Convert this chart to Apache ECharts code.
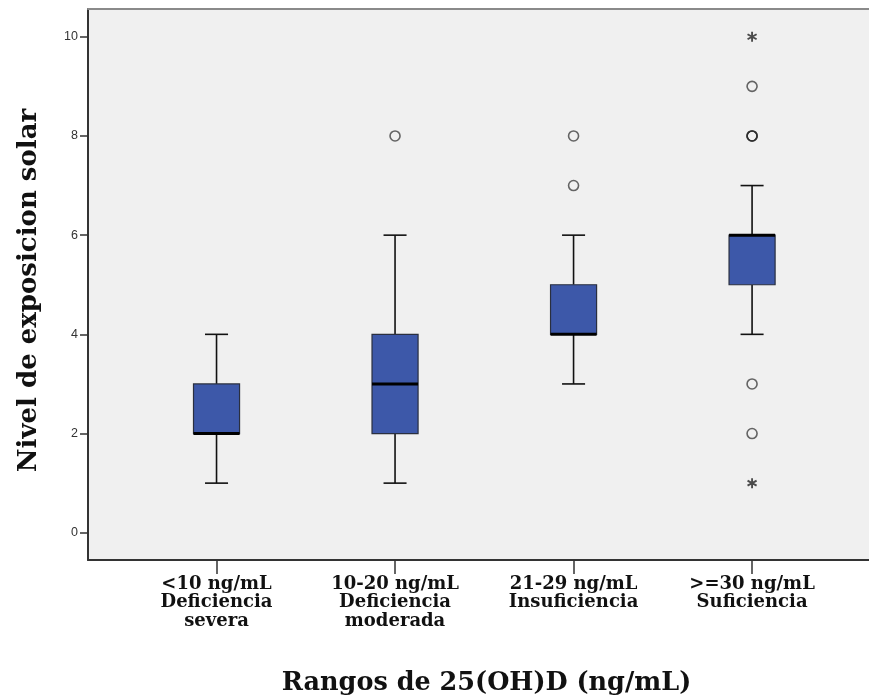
<!DOCTYPE html>
<html>
<head>
<meta charset="utf-8">
<title>Nivel de exposicion solar por rangos de 25(OH)D</title>
<script src="https://cdn.jsdelivr.net/npm/echarts@6/dist/echarts.min.js"></script>
<style>
  html, body { margin: 0; padding: 0; background: #ffffff; }
  #chart { width: 869px; height: 699px; }
</style>
</head>
<body>
<div id="chart"></div>
<script>
// Vitamin D range groups (x axis, positions 1..4)
const categories = [
  '<10 ng/mL\nDeficiencia\nsevera',
  '10-20 ng/mL\nDeficiencia\nmoderada',
  '21-29 ng/mL\nInsuficiencia',
  '>=30 ng/mL\nSuficiencia'
];

// Five-number summaries per group
const whiskerLow  = [1, 1, 3, 4];
const q1          = [2, 2, 4, 5];
const median      = [2, 3, 4, 6];
const q3          = [3, 4, 5, 6];
const whiskerHigh = [4, 6, 6, 7];

// Outliers (circles) and extreme values (stars): [group, value]
const outliers = [[2, 8], [3, 7], [3, 8], [4, 9], [4, 8], [4, 8], [4, 8], [4, 3], [4, 2]];
const extremes = [[4, 10], [4, 1]];

// Y axis tick labels
const yTicks = [0, 2, 4, 6, 8, 10];
const xTicks = categories.map((c, i) => i + 1);

const boxData = categories.map((c, i) => [i + 1, whiskerLow[i], q1[i], median[i], q3[i], whiskerHigh[i]]);

const serif = '"DejaVu Serif", "Liberation Serif", serif';
const starPath = 'path://M8.88,1.721 L9.78,3.279 L1.12,8.279 L0.22,6.721 Z ' +
  'M4.1,0 L5.9,0 L5.9,10 L4.1,10 Z ' +
  'M9.78,6.721 L8.88,8.279 L0.22,3.279 L1.12,1.721 Z';

function renderBox(params, api) {
  const x = api.value(0);
  const pLow = api.coord([x, api.value(1)]);
  const pQ1 = api.coord([x, api.value(2)]);
  const pMed = api.coord([x, api.value(3)]);
  const pQ3 = api.coord([x, api.value(4)]);
  const pHigh = api.coord([x, api.value(5)]);
  const boxW = api.size([0.258, 0])[0];
  const capW = boxW / 2;
  const cx = pMed[0];
  const lineStyle = { stroke: '#111', lineWidth: 1.6 };
  return {
    type: 'group',
    children: [
      { type: 'line', shape: { x1: cx, y1: pLow[1], x2: cx, y2: pQ1[1] }, style: lineStyle },
      { type: 'line', shape: { x1: cx, y1: pQ3[1], x2: cx, y2: pHigh[1] }, style: lineStyle },
      { type: 'line', shape: { x1: cx - capW / 2, y1: pLow[1], x2: cx + capW / 2, y2: pLow[1] }, style: lineStyle },
      { type: 'line', shape: { x1: cx - capW / 2, y1: pHigh[1], x2: cx + capW / 2, y2: pHigh[1] }, style: lineStyle },
      {
        type: 'rect',
        shape: { x: cx - boxW / 2, y: pQ3[1], width: boxW, height: pQ1[1] - pQ3[1] },
        style: { fill: '#3d58a9', stroke: '#2a2f3f', lineWidth: 1.2 }
      },
      {
        type: 'line',
        shape: { x1: cx - boxW / 2, y1: pMed[1], x2: cx + boxW / 2, y2: pMed[1] },
        style: { stroke: '#000', lineWidth: 3 }
      }
    ]
  };
}

const chart = echarts.init(document.getElementById('chart'), null, { renderer: 'canvas' });
chart.setOption({
  backgroundColor: '#ffffff',
  animation: false,
  grid: {
    left: 88, right: 0, top: 9, bottom: 139,
    outerBoundsMode: 'none',
    show: true, backgroundColor: '#f0f0f0',
    borderWidth: 0
  },
  xAxis: [
    {
      type: 'value',
      min: 0.28, max: 4.655,
      name: 'Rangos de 25(OH)D (ng/mL)',
      nameLocation: 'middle',
      nameGap: 110,
      nameTextStyle: { fontFamily: serif, fontWeight: 'bold', fontSize: 25.5, color: '#111', padding: [0, 0, 0, 16] },
      axisLine: { show: true, onZero: false, lineStyle: { color: '#333', width: 2 } },
      axisTick: { show: true, customValues: xTicks, length: 14, inside: false, lineStyle: { color: '#333', width: 1.5 } },
      axisLabel: {
        customValues: xTicks,
        margin: 15,
        formatter: (v) => categories[Math.round(v) - 1] || '',
        fontFamily: serif, fontWeight: 'bold', fontSize: 18, lineHeight: 18.5,
        color: '#111', align: 'center'
      },
      splitLine: { show: false }
    },
    {
      // top frame line of the plot area
      type: 'value',
      position: 'top',
      min: 0.28, max: 4.655,
      axisLine: { show: true, onZero: false, lineStyle: { color: '#8a8a8a', width: 2 } },
      axisTick: { show: false },
      axisLabel: { show: false },
      splitLine: { show: false }
    }
  ],
  yAxis: {
    type: 'value',
    min: -0.55, max: 10.56,
    name: 'Nivel de exposicion solar',
    nameLocation: 'middle',
    nameGap: 46,
    nameTextStyle: { fontFamily: serif, fontWeight: 'bold', fontSize: 26, color: '#111', padding: [0, 12, 0, 0] },
    axisLine: { show: true, onZero: false, lineStyle: { color: '#333', width: 2 } },
    axisTick: { show: true, customValues: yTicks, length: 8, lineStyle: { color: '#333', width: 1.5 } },
    axisLabel: {
      customValues: yTicks, margin: 10,
      fontFamily: '"Liberation Sans", Arial, sans-serif', fontSize: 12.5, color: '#333'
    },
    splitLine: { show: false }
  },
  series: [
    {
      type: 'custom',
      renderItem: renderBox,
      data: boxData,
      encode: { x: 0, y: [1, 2, 3, 4, 5] },
      z: 2
    },
    {
      type: 'scatter',
      data: outliers,
      symbol: 'circle',
      symbolSize: 10,
      itemStyle: { color: 'rgba(0,0,0,0)', borderColor: 'rgba(40,40,40,0.7)', borderWidth: 1.6, opacity: 1 },
      z: 3
    },
    {
      type: 'scatter',
      data: extremes,
      symbol: starPath,
      symbolSize: 10,
      itemStyle: { color: '#222' },
      z: 3
    }
  ]
});
</script>
</body>
</html>
